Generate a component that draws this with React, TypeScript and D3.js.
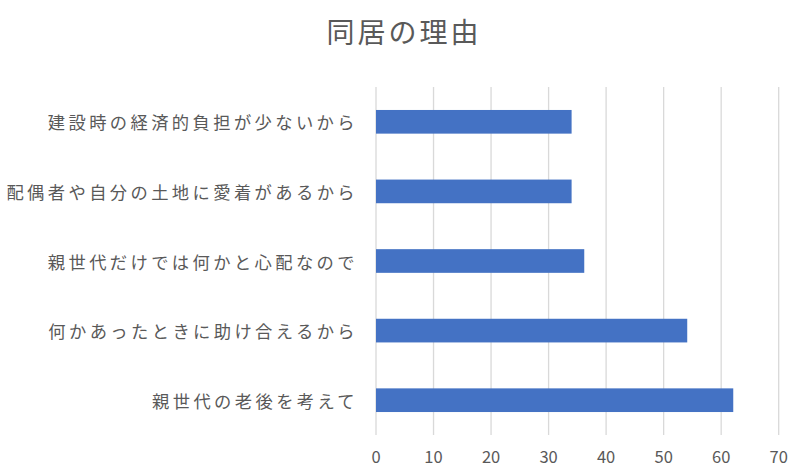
import { scaleLinear, scaleBand } from "d3";

const categories = [
  "建設時の経済的負担が少ないから",
  "配偶者や自分の土地に愛着があるから",
  "親世代だけでは何かと心配なので",
  "何かあったときに助け合えるから",
  "親世代の老後を考えて",
];
const values = [34, 34, 36.2, 54.1, 62.1];
const xTicks = [0, 10, 20, 30, 40, 50, 60, 70];
const title = "同居の理由";

const W = 800;
const H = 473;
const font = "'Noto Sans CJK JP', 'Noto Sans', sans-serif";

export default function App() {
  const x = scaleLinear().domain([0, 70]).range([376, 778.7]);
  const y = scaleBand<string>()
    .domain(categories)
    .range([87, 435])
    .paddingInner(0.66)
    .paddingOuter(0.33);

  return (
    <svg
      width={W}
      height={H}
      style={{ position: "absolute", left: 0, top: 0, background: "#fff" }}
      fontFamily={font}
    >
      {/* title */}
      <text
        x={404}
        y={31}
        textAnchor="middle"
        dominantBaseline="central"
        fontSize={28}
        letterSpacing={3}
        fill="#595959"
      >
        {title}
      </text>

      {/* grid */}
      {xTicks.map((t) => (
        <line
          key={t}
          x1={x(t)}
          x2={x(t)}
          y1={87}
          y2={435}
          stroke="#d9d9d9"
          strokeWidth={1.3}
        />
      ))}

      {/* bars */}
      {categories.map((c, i) => (
        <rect
          key={c}
          x={x(0)}
          y={y(c)}
          width={x(values[i]) - x(0)}
          height={y.bandwidth()}
          fill="#4472c4"
        />
      ))}

      {/* category labels */}
      {categories.map((c) => (
        <text
          key={c}
          x={358}
          y={(y(c) ?? 0) + y.bandwidth() / 2}
          textAnchor="end"
          dominantBaseline="central"
          fontSize={17.3}
          letterSpacing={3.4}
          fill="#595959"
        >
          {c}
        </text>
      ))}

      {/* x tick labels */}
      {xTicks.map((t) => (
        <text
          key={t}
          x={x(t)}
          y={456}
          textAnchor="middle"
          dominantBaseline="central"
          fontSize={16.5}
          fill="#595959"
        >
          {t}
        </text>
      ))}
    </svg>
  );
}
